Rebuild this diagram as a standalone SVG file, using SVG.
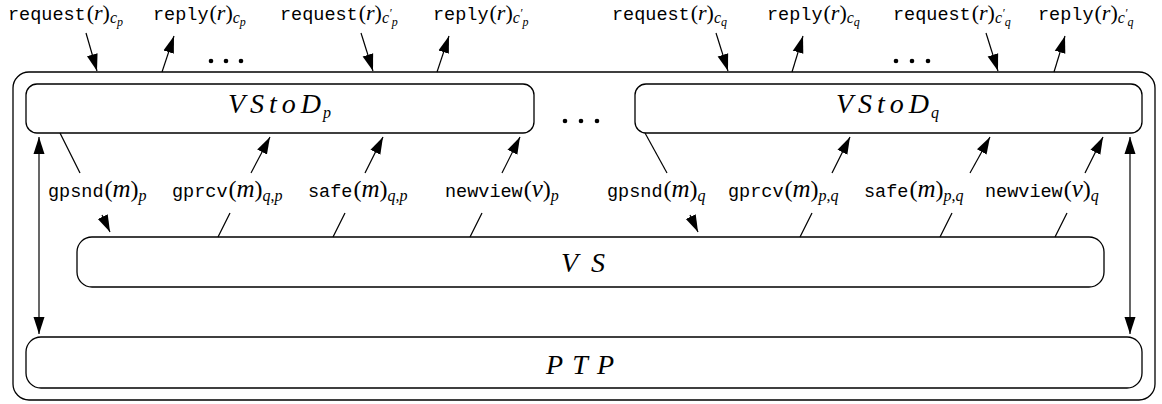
<svg xmlns="http://www.w3.org/2000/svg" width="1162" height="404" viewBox="0 0 1162 404">
<style>
.box{fill:none;stroke:#000;stroke-width:1.3}
.ln{fill:none;stroke:#000;stroke-width:1.2}
.tt{font-family:"Liberation Mono",monospace;font-size:18.5px}
.rm{font-family:"Liberation Serif",serif;font-size:24px}
.it{font-family:"Liberation Serif",serif;font-style:italic;font-size:25px}
.rmt{font-family:"Liberation Serif",serif;font-size:22px}
.itt{font-family:"Liberation Serif",serif;font-style:italic;font-size:22px}
.s1{font-family:"Liberation Serif",serif;font-style:italic;font-size:16px}
.s1r{font-family:"Liberation Serif",serif;font-size:16px}
.s2{font-family:"Liberation Serif",serif;font-style:italic;font-size:12px}
.big{font-family:"Liberation Serif",serif;font-style:italic;font-size:28px}
.dot{fill:#000}
text{fill:#000}
</style>
<defs>
<marker id="ah" markerUnits="userSpaceOnUse" markerWidth="18" markerHeight="12" refX="17" refY="6" orient="auto-start-reverse">
<path d="M0,0.5 L17,6 L0,11.5 z" fill="#000"/>
</marker>
</defs>

<g id="outer"><rect class="box" x="13" y="72" width="1142" height="328" rx="16"/></g>

<g id="vstod_p">
<rect class="box" x="26" y="84" width="508" height="49" rx="11"/>
<text class="big" x="228" y="113" textLength="93" lengthAdjust="spacing">VStoD</text>
<text class="s1" x="323" y="118">p</text>
</g>
<g id="vstod_q">
<rect class="box" x="635" y="84" width="507" height="49" rx="11"/>
<text class="big" x="836" y="113" textLength="93" lengthAdjust="spacing">VStoD</text>
<text class="s1" x="931" y="118">q</text>
</g>
<g id="vs">
<rect class="box" x="77" y="237" width="1027" height="50" rx="15"/>
<text class="big" x="561" y="272" textLength="44" lengthAdjust="spacing">VS</text>
</g>
<g id="ptp">
<rect class="box" x="26" y="337" width="1116" height="51" rx="15"/>
<text class="big" x="546" y="374" textLength="68" lengthAdjust="spacing">PTP</text>
</g>

<g id="dots">
<circle class="dot" cx="211" cy="61" r="2.3"/><circle class="dot" cx="226" cy="61" r="2.3"/><circle class="dot" cx="241" cy="61" r="2.3"/>
<circle class="dot" cx="896" cy="61" r="2.3"/><circle class="dot" cx="912" cy="61" r="2.3"/><circle class="dot" cx="928" cy="61" r="2.3"/>
<circle class="dot" cx="565" cy="121" r="2.3"/><circle class="dot" cx="581" cy="121" r="2.3"/><circle class="dot" cx="597" cy="121" r="2.3"/>
</g>

<g id="top-labels">
<text x="8" y="20"><tspan class="tt">request</tspan><tspan class="rmt" dx="1">(</tspan><tspan class="itt">r</tspan><tspan class="rmt">)</tspan><tspan class="s1" dy="3">c</tspan><tspan class="s2" dy="3">p</tspan></text>
<text x="153" y="20"><tspan class="tt">reply</tspan><tspan class="rmt" dx="1">(</tspan><tspan class="itt">r</tspan><tspan class="rmt">)</tspan><tspan class="s1" dy="3">c</tspan><tspan class="s2" dy="3">p</tspan></text>
<text x="280" y="20"><tspan class="tt">request</tspan><tspan class="rmt" dx="1">(</tspan><tspan class="itt">r</tspan><tspan class="rmt">)</tspan><tspan class="s1" dy="3">c</tspan><tspan class="s2" dy="-6">′</tspan><tspan class="s2" dy="9">p</tspan></text>
<text x="433" y="20"><tspan class="tt">reply</tspan><tspan class="rmt" dx="1">(</tspan><tspan class="itt">r</tspan><tspan class="rmt">)</tspan><tspan class="s1" dy="3">c</tspan><tspan class="s2" dy="-6">′</tspan><tspan class="s2" dy="9">p</tspan></text>
<text x="612" y="20"><tspan class="tt">request</tspan><tspan class="rmt" dx="1">(</tspan><tspan class="itt">r</tspan><tspan class="rmt">)</tspan><tspan class="s1" dy="3">c</tspan><tspan class="s2" dy="3">q</tspan></text>
<text x="767" y="20"><tspan class="tt">reply</tspan><tspan class="rmt" dx="1">(</tspan><tspan class="itt">r</tspan><tspan class="rmt">)</tspan><tspan class="s1" dy="3">c</tspan><tspan class="s2" dy="3">q</tspan></text>
<text x="893" y="20"><tspan class="tt">request</tspan><tspan class="rmt" dx="1">(</tspan><tspan class="itt">r</tspan><tspan class="rmt">)</tspan><tspan class="s1" dy="3">c</tspan><tspan class="s2" dy="-6">′</tspan><tspan class="s2" dy="9">q</tspan></text>
<text x="1038" y="20"><tspan class="tt">reply</tspan><tspan class="rmt" dx="1">(</tspan><tspan class="itt">r</tspan><tspan class="rmt">)</tspan><tspan class="s1" dy="3">c</tspan><tspan class="s2" dy="-6">′</tspan><tspan class="s2" dy="9">q</tspan></text>
</g>

<g id="mid-labels">
<text x="48" y="197"><tspan class="tt">gpsnd</tspan><tspan class="rm" dx="1">(</tspan><tspan class="it">m</tspan><tspan class="rm">)</tspan><tspan class="s1" dy="4">p</tspan></text>
<text x="172" y="197"><tspan class="tt">gprcv</tspan><tspan class="rm" dx="1">(</tspan><tspan class="it">m</tspan><tspan class="rm">)</tspan><tspan class="s1" dy="4">q</tspan><tspan class="s1r">,</tspan><tspan class="s1">p</tspan></text>
<text x="308" y="197"><tspan class="tt">safe</tspan><tspan class="rm" dx="1">(</tspan><tspan class="it">m</tspan><tspan class="rm">)</tspan><tspan class="s1" dy="4">q</tspan><tspan class="s1r">,</tspan><tspan class="s1">p</tspan></text>
<text x="445" y="197"><tspan class="tt">newview</tspan><tspan class="rm" dx="1">(</tspan><tspan class="it">v</tspan><tspan class="rm">)</tspan><tspan class="s1" dy="4">p</tspan></text>
<text x="607" y="197"><tspan class="tt">gpsnd</tspan><tspan class="rm" dx="1">(</tspan><tspan class="it">m</tspan><tspan class="rm">)</tspan><tspan class="s1" dy="4">q</tspan></text>
<text x="728" y="197"><tspan class="tt">gprcv</tspan><tspan class="rm" dx="1">(</tspan><tspan class="it">m</tspan><tspan class="rm">)</tspan><tspan class="s1" dy="4">p</tspan><tspan class="s1r">,</tspan><tspan class="s1">q</tspan></text>
<text x="864" y="197"><tspan class="tt">safe</tspan><tspan class="rm" dx="1">(</tspan><tspan class="it">m</tspan><tspan class="rm">)</tspan><tspan class="s1" dy="4">p</tspan><tspan class="s1r">,</tspan><tspan class="s1">q</tspan></text>
<text x="985" y="197"><tspan class="tt">newview</tspan><tspan class="rm" dx="1">(</tspan><tspan class="it">v</tspan><tspan class="rm">)</tspan><tspan class="s1" dy="4">q</tspan></text>
</g>

<g id="connectors">
<line class="ln" x1="86" y1="33" x2="97" y2="71" marker-end="url(#ah)"/>
<line class="ln" x1="162" y1="72" x2="174" y2="36" marker-end="url(#ah)"/>
<line class="ln" x1="361" y1="33" x2="373" y2="71" marker-end="url(#ah)"/>
<line class="ln" x1="437" y1="72" x2="449" y2="36" marker-end="url(#ah)"/>
<line class="ln" x1="716" y1="33" x2="728" y2="71" marker-end="url(#ah)"/>
<line class="ln" x1="792" y1="72" x2="803" y2="36" marker-end="url(#ah)"/>
<line class="ln" x1="986" y1="33" x2="998" y2="71" marker-end="url(#ah)"/>
<line class="ln" x1="1054" y1="72" x2="1065" y2="36" marker-end="url(#ah)"/>

<line class="ln" x1="60" y1="133" x2="80" y2="173"/>
<line class="ln" x1="102" y1="215" x2="110" y2="232" marker-end="url(#ah)"/>
<line class="ln" x1="645" y1="133" x2="667" y2="173"/>
<line class="ln" x1="690" y1="215" x2="698" y2="232" marker-end="url(#ah)"/>

<line class="ln" x1="218" y1="237" x2="230" y2="213"/>
<line class="ln" x1="251" y1="173" x2="270" y2="137" marker-end="url(#ah)"/>
<line class="ln" x1="333" y1="237" x2="345" y2="213"/>
<line class="ln" x1="365" y1="173" x2="383" y2="137" marker-end="url(#ah)"/>
<line class="ln" x1="470" y1="237" x2="482" y2="213"/>
<line class="ln" x1="502" y1="173" x2="520" y2="137" marker-end="url(#ah)"/>
<line class="ln" x1="800" y1="237" x2="812" y2="213"/>
<line class="ln" x1="832" y1="173" x2="850" y2="137" marker-end="url(#ah)"/>
<line class="ln" x1="940" y1="237" x2="952" y2="213"/>
<line class="ln" x1="970" y1="173" x2="990" y2="137" marker-end="url(#ah)"/>
<line class="ln" x1="1055" y1="237" x2="1067" y2="213"/>
<line class="ln" x1="1085" y1="173" x2="1103" y2="137" marker-end="url(#ah)"/>

<line class="ln" x1="39" y1="137" x2="39" y2="334" marker-start="url(#ah)" marker-end="url(#ah)"/>
<line class="ln" x1="1130" y1="137" x2="1130" y2="334" marker-start="url(#ah)" marker-end="url(#ah)"/>
</g>
</svg>
